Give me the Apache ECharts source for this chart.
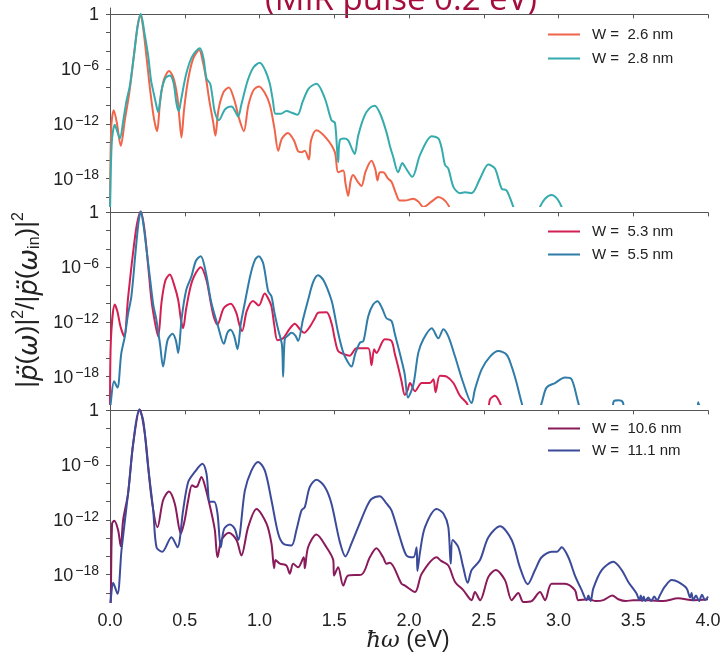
<!DOCTYPE html>
<html>
<head>
<meta charset="utf-8">
<script src="https://cdn.jsdelivr.net/npm/echarts@6/dist/echarts.min.js"></script>
<style>html,body{margin:0;padding:0;background:#fff}#c{width:725px;height:654px}</style>
</head>
<body>
<div id="c"></div>
<script>
// values are [photon energy in eV, log10 of normalized intensity]
const xTicks = [0, 0.5, 1, 1.5, 2, 2.5, 3, 3.5, 4];
const yTickExps = [0, -2, -4, -6, -8, -10, -12, -14, -16, -18, -20];
const yLabelExps = [0, -6, -12, -18];

const names = ['W =  2.6 nm', 'W =  2.8 nm', 'W =  5.3 nm', 'W =  5.5 nm', 'W =  10.6 nm', 'W =  11.1 nm'];
const colors = ['#F0654A', '#35ABAD', '#D41F52', '#2F7CA8', '#8A1B5B', '#3C4A9A'];

const w26 = [[0.0,-22],[0.008,-12.5],[0.025,-10.5],[0.045,-11.8],[0.072,-14.4],[0.1,-11.5],[0.13,-8.5],[0.16,-4.5],[0.185,-1.2],[0.204,0],[0.222,-1.5],[0.245,-4.8],[0.27,-8.5],[0.295,-11.5],[0.315,-12.8],[0.335,-9.6],[0.36,-7.2],[0.395,-6.2],[0.425,-7.0],[0.45,-9.0],[0.465,-11.5],[0.478,-13.5],[0.495,-10.5],[0.52,-7.4],[0.555,-4.9],[0.596,-3.9],[0.625,-5.5],[0.645,-7.3],[0.665,-9.5],[0.69,-11.8],[0.705,-13.3],[0.725,-10.5],[0.76,-8.5],[0.795,-8.0],[0.83,-9.3],[0.865,-11.5],[0.895,-12.8],[0.925,-10.0],[0.96,-8.3],[0.997,-7.9],[1.035,-8.6],[1.069,-9.9],[1.1,-12.5],[1.125,-14.95],[1.15,-13.6],[1.19,-13.0],[1.23,-13.8],[1.258,-15.0],[1.28,-15.1],[1.303,-14.95],[1.33,-15.9],[1.345,-13.8],[1.381,-12.7],[1.448,-13.6],[1.504,-15.1],[1.526,-17.3],[1.56,-17.1],[1.575,-18.5],[1.593,-19.9],[1.61,-18.2],[1.626,-17.6],[1.655,-18.3],[1.682,-18.8],[1.71,-17.2],[1.749,-16.05],[1.775,-17.0],[1.789,-18.2],[1.805,-17.3],[1.827,-17.3],[1.86,-18.0],[1.883,-18.35],[1.91,-19.5],[1.938,-20.4],[1.973,-20.4],[2.029,-20.2],[2.062,-20.5],[2.096,-21.1],[2.152,-20.5],[2.196,-20.0],[2.23,-20.25],[2.263,-20.9],[2.285,-22]];

const w28 = [[0.0,-22],[0.012,-14],[0.032,-12.1],[0.05,-12.9],[0.066,-13.6],[0.09,-11.5],[0.11,-9.5],[0.132,-7.9],[0.16,-4.5],[0.185,-1.3],[0.206,0.05],[0.23,-2],[0.255,-4.5],[0.275,-7.3],[0.288,-8.3],[0.305,-9.6],[0.322,-10.7],[0.345,-8.3],[0.37,-7.0],[0.40,-6.7],[0.425,-7.5],[0.445,-9.8],[0.46,-10.6],[0.475,-9.4],[0.51,-6.5],[0.55,-4.6],[0.601,-3.7],[0.625,-4.8],[0.645,-7.0],[0.67,-7.6],[0.685,-9.0],[0.701,-10.7],[0.728,-11.6],[0.77,-10.4],[0.813,-10.1],[0.84,-10.7],[0.857,-11.2],[0.88,-9.8],[0.92,-7.3],[0.96,-5.8],[1.002,-5.3],[1.04,-6.2],[1.069,-7.6],[1.09,-9.5],[1.107,-10.9],[1.14,-10.9],[1.18,-10.6],[1.22,-10.8],[1.254,-11.0],[1.29,-9.5],[1.33,-8.1],[1.381,-7.6],[1.437,-9.2],[1.481,-11.6],[1.505,-11.9],[1.526,-16.2],[1.537,-13.8],[1.565,-13.6],[1.593,-13.8],[1.62,-14.8],[1.637,-15.3],[1.66,-13.3],[1.7,-11.2],[1.735,-10.3],[1.771,-10.0],[1.81,-11.0],[1.849,-12.9],[1.875,-14.6],[1.894,-15.6],[1.927,-17.3],[1.956,-16.3],[1.973,-16.7],[2.022,-17.8],[2.074,-15.4],[2.152,-13.35],[2.196,-13.6],[2.219,-14.7],[2.241,-16.5],[2.263,-16.9],[2.297,-18.9],[2.341,-19.6],[2.375,-19.5],[2.419,-19.6],[2.475,-18.0],[2.531,-16.45],[2.575,-16.9],[2.62,-19.1],[2.653,-19.3],[2.698,-21.1],[2.72,-22],[2.86,-22],[2.876,-21.1],[2.91,-20.2],[2.954,-19.8],[2.99,-20.2],[3.021,-21.1],[3.04,-22]];

const w53 = [[0.0,-22],[0.006,-14],[0.032,-10.1],[0.05,-10.9],[0.07,-12.5],[0.095,-13.6],[0.12,-9.5],[0.15,-5.0],[0.18,-1.3],[0.206,0.1],[0.23,-1.8],[0.255,-5.8],[0.277,-9.6],[0.3,-12.0],[0.322,-13.6],[0.345,-9.8],[0.37,-7.5],[0.40,-6.8],[0.43,-8.0],[0.456,-9.6],[0.475,-11.8],[0.489,-12.7],[0.51,-10.5],[0.55,-7.5],[0.607,-6.0],[0.645,-7.4],[0.674,-9.9],[0.695,-11.5],[0.719,-12.3],[0.76,-10.5],[0.808,-10.0],[0.845,-11.0],[0.865,-12.3],[0.884,-13.0],[0.915,-10.8],[0.957,-9.7],[0.995,-10.2],[1.035,-8.9],[1.06,-9.5],[1.08,-10.3],[1.1,-12.5],[1.12,-14.0],[1.158,-13.8],[1.2,-12.8],[1.236,-12.2],[1.27,-12.8],[1.298,-13.2],[1.336,-12.55],[1.37,-11.6],[1.392,-11.0],[1.448,-10.95],[1.481,-12.1],[1.504,-13.9],[1.526,-15.2],[1.56,-15.5],[1.604,-15.7],[1.649,-14.9],[1.727,-14.9],[1.749,-16.75],[1.767,-15.0],[1.782,-15.4],[1.838,-13.9],[1.883,-14.1],[1.905,-15.5],[1.927,-16.9],[1.95,-18.5],[1.972,-20.0],[1.99,-19.5],[2.007,-18.7],[2.04,-19.6],[2.085,-18.7],[2.14,-18.7],[2.163,-18.3],[2.178,-19.7],[2.207,-17.9],[2.252,-18.0],[2.297,-18.7],[2.341,-20.1],[2.386,-20.9],[2.42,-22],[2.52,-22],[2.542,-20.5],[2.575,-20.1],[2.609,-20.9],[2.63,-22]];

const w55 = [[0.0,-22],[0.005,-20.9],[0.027,-18.5],[0.05,-19.2],[0.075,-15.5],[0.099,-13.6],[0.12,-11.2],[0.143,-9.2],[0.17,-4.5],[0.19,-1.2],[0.206,0.1],[0.225,-1.5],[0.245,-4.2],[0.266,-7.0],[0.29,-10.2],[0.31,-11.75],[0.335,-14.5],[0.355,-16.9],[0.385,-14.0],[0.418,-13.3],[0.44,-14.0],[0.456,-15.4],[0.48,-11.5],[0.51,-8.5],[0.545,-7.0],[0.575,-5.3],[0.607,-4.8],[0.64,-6.5],[0.678,-9.9],[0.723,-12.5],[0.761,-14.4],[0.785,-13.2],[0.806,-12.85],[0.83,-13.5],[0.853,-15.0],[0.875,-12.2],[0.902,-9.9],[0.94,-6.8],[0.97,-5.2],[0.995,-4.8],[1.025,-5.6],[1.058,-8.65],[1.08,-9.2],[1.1,-11.0],[1.125,-12.85],[1.15,-14.5],[1.158,-18.0],[1.169,-13.9],[1.19,-13.5],[1.214,-13.2],[1.24,-13.5],[1.258,-14.1],[1.29,-11.8],[1.325,-9.6],[1.36,-7.6],[1.392,-6.9],[1.43,-7.5],[1.481,-9.6],[1.5,-11.0],[1.526,-13.2],[1.55,-14.8],[1.571,-15.8],[1.615,-16.9],[1.64,-15.5],[1.671,-14.3],[1.695,-14.1],[1.727,-11.4],[1.76,-10.1],[1.789,-9.75],[1.82,-10.5],[1.849,-11.6],[1.883,-11.9],[1.905,-13.3],[1.927,-14.7],[1.95,-16.2],[1.972,-17.8],[1.993,-20.3],[2.029,-18.9],[2.062,-15.4],[2.096,-13.9],[2.152,-12.7],[2.196,-13.8],[2.23,-12.8],[2.263,-13.6],[2.308,-15.8],[2.363,-18.7],[2.419,-20.9],[2.441,-19.4],[2.486,-17.2],[2.542,-15.8],[2.598,-15.2],[2.653,-15.6],[2.687,-16.9],[2.72,-18.7],[2.754,-20.9],[2.78,-22],[2.86,-22],[2.887,-20.9],[2.92,-19.2],[2.977,-18.7],[3.043,-18.1],[3.088,-18.3],[3.133,-20.9],[3.16,-22],[3.35,-22],[3.37,-20.7],[3.4,-20.6],[3.43,-20.8],[3.45,-22],[3.92,-22],[3.935,-20.8],[3.95,-22]];

const w106 = [[0.0,-22],[0.005,-20.8],[0.014,-12.4],[0.028,-12.1],[0.054,-13.1],[0.072,-14.9],[0.088,-12.0],[0.121,-9.1],[0.155,-3.65],[0.199,0.1],[0.233,-2.55],[0.277,-9.5],[0.318,-12.8],[0.355,-9.85],[0.394,-8.9],[0.433,-10.2],[0.474,-13.5],[0.5,-12.0],[0.523,-9.85],[0.549,-8.2],[0.572,-8.4],[0.585,-8.3],[0.612,-7.3],[0.634,-8.2],[0.674,-10.9],[0.701,-13.1],[0.719,-16.1],[0.746,-14.2],[0.795,-13.4],[0.846,-14.2],[0.879,-15.9],[0.924,-12.8],[0.98,-10.8],[1.047,-12.4],[1.08,-14.6],[1.098,-17.3],[1.107,-16.4],[1.136,-16.8],[1.18,-17.0],[1.203,-17.9],[1.225,-16.8],[1.258,-17.2],[1.296,-16.1],[1.303,-17.3],[1.325,-15.0],[1.381,-13.6],[1.448,-15.0],[1.493,-16.4],[1.499,-18.1],[1.526,-17.2],[1.56,-19.2],[1.593,-18.1],[1.682,-18.0],[1.738,-16.1],[1.782,-15.1],[1.827,-16.1],[1.849,-16.8],[1.872,-16.7],[1.95,-19.0],[1.973,-19.2],[2.04,-19.9],[2.085,-17.9],[2.185,-16.1],[2.215,-16.5],[2.263,-17.0],[2.308,-18.8],[2.363,-19.7],[2.419,-20.8],[2.441,-19.9],[2.475,-20.8],[2.531,-18.25],[2.58,-17.5],[2.642,-18.6],[2.687,-20.8],[2.731,-20.0],[2.765,-21.0],[2.82,-20.9],[2.876,-19.9],[2.91,-20.8],[2.954,-19.0],[3.043,-19.0],[3.11,-19.7],[3.133,-20.8],[3.2,-20.7],[3.25,-20.9],[3.3,-20.8],[3.36,-20.3],[3.4,-20.7],[3.45,-20.9],[3.5,-20.8],[3.6,-20.8],[3.7,-20.9],[3.8,-20.6],[3.9,-20.8],[4.0,-20.7]];

const w111 = [[0.0,-22],[0.005,-20.8],[0.021,-18.9],[0.05,-20.1],[0.077,-15.3],[0.121,-9.1],[0.155,-3.65],[0.195,0.1],[0.222,-1.1],[0.255,-6.2],[0.289,-10.95],[0.311,-15.0],[0.349,-15.5],[0.411,-13.9],[0.451,-15.0],[0.489,-10.95],[0.523,-7.85],[0.567,-6.75],[0.618,-5.85],[0.645,-6.9],[0.668,-10.0],[0.697,-10.0],[0.719,-11.3],[0.741,-15.0],[0.763,-13.0],[0.801,-12.5],[0.835,-13.0],[0.857,-14.2],[0.902,-8.8],[0.946,-6.6],[0.991,-5.65],[1.036,-6.6],[1.08,-9.85],[1.125,-13.5],[1.158,-14.6],[1.214,-14.8],[1.247,-13.1],[1.281,-10.95],[1.303,-10.6],[1.336,-8.4],[1.381,-7.6],[1.437,-8.4],[1.481,-10.2],[1.537,-14.4],[1.575,-16.0],[1.615,-14.6],[1.66,-12.8],[1.716,-10.6],[1.749,-9.7],[1.804,-9.4],[1.849,-10.2],[1.883,-10.95],[1.939,-13.9],[1.983,-15.9],[2.029,-16.1],[2.051,-15.0],[2.056,-17.6],[2.074,-15.5],[2.107,-12.8],[2.185,-10.8],[2.23,-11.3],[2.263,-12.8],[2.279,-16.8],[2.292,-14.2],[2.33,-15.0],[2.363,-17.2],[2.392,-18.9],[2.419,-17.5],[2.475,-16.4],[2.531,-13.9],[2.609,-12.7],[2.687,-14.2],[2.742,-17.2],[2.794,-19.05],[2.843,-17.5],[2.887,-16.1],[2.954,-15.5],[2.99,-15.5],[3.021,-15.0],[3.066,-16.1],[3.11,-18.1],[3.155,-19.7],[3.188,-20.8],[3.2,-20.3],[3.215,-20.9],[3.233,-19.5],[3.289,-17.5],[3.367,-16.6],[3.423,-17.5],[3.467,-18.8],[3.523,-20.1],[3.54,-20.8],[3.55,-20.3],[3.56,-20.9],[3.57,-20.4],[3.58,-20.9],[3.6,-20.5],[3.62,-20.9],[3.64,-20.4],[3.66,-20.8],[3.68,-20.2],[3.712,-19.3],[3.757,-18.6],[3.8,-18.8],[3.857,-19.5],[3.88,-20.5],[3.89,-20.0],[3.9,-20.8],[3.92,-20.3],[3.94,-20.9],[3.96,-20.2],[3.98,-20.8],[4.0,-20.4]];

const seriesData = [w26, w28, w53, w55, w106, w111];
const panelOf = [0, 0, 1, 1, 2, 2];

const chart = echarts.init(document.getElementById('c'), null, {renderer: 'canvas'});
const tickFont = '"Liberation Sans", Arial, sans-serif';
const grids = [0, 1, 2].map(i => ({left: 110, right: 17, top: 8 + i * 198, height: 198}));
const xAxes = [0, 1, 2].map(i => ({
  type: 'value', gridIndex: i, min: xTicks[0], max: xTicks[xTicks.length - 1], interval: 0.5,
  axisLine: {lineStyle: {color: '#555', width: 1}},
  axisTick: {length: 4, lineStyle: {color: '#555'}},
  splitLine: {show: false},
  axisLabel: {show: i === 2, fontSize: 18, color: '#222', fontFamily: tickFont, margin: 10,
    formatter: v => v.toFixed(1)}
}));
const yAxes = [0, 1, 2].map(i => ({
  type: 'value', gridIndex: i, min: -21, max: 0.7,
  axisLine: {show: true, lineStyle: {color: '#555', width: 1}},
  axisTick: {show: true, length: 4, lineStyle: {color: '#555'}, customValues: yTickExps},
  splitLine: {show: false},
  axisLabel: {
    customValues: yLabelExps, margin: 11, color: '#222', fontFamily: tickFont,
    formatter: v => v === 0 ? '{b|1}' : '{b|10}{s|\u2212' + (-v) + '}',
    rich: {
      b: {fontSize: 18, fontFamily: tickFont, color: '#222', lineHeight: 20, verticalAlign: 'bottom'},
      s: {fontSize: 14, fontFamily: tickFont, color: '#222', lineHeight: 13, verticalAlign: 'top', padding: [0, 0, 0, 2]}
    }
  }
}));

const series = seriesData.map((d, k) => ({
  name: names[k], type: 'line', xAxisIndex: panelOf[k], yAxisIndex: panelOf[k],
  data: d, symbol: 'none', showSymbol: false, smooth: 0.3, clip: true,
  lineStyle: {width: 2, color: colors[k]}, itemStyle: {color: colors[k]}
}));

const lineIcon = 'path://M0,0L0.01,0M0,6L32,6L32,8L0,8ZM0,14L0.01,14';
const legendTops = [27, 224, 421];
const legendGaps = [9, 8, 7];
const legends = [0, 1, 2].map(i => ({
  data: [names[2 * i], names[2 * i + 1]], orient: 'vertical', left: 548, top: legendTops[i],
  padding: 0, icon: lineIcon, itemWidth: 32, itemHeight: 14, itemGap: legendGaps[i],
  textStyle: {fontSize: 15, lineHeight: 14, color: '#222', fontFamily: tickFont, padding: [0, 0, 0, 7]}
}));

chart.setOption({
  animation: false,
  backgroundColor: '#fff',
  grid: grids, xAxis: xAxes, yAxis: yAxes, series: series, legend: legends,
  graphic: [
    {type: 'text', x: 401, y: 1, style: {text: '(MIR pulse 0.2 eV)', align: 'center', verticalAlign: 'middle',
      fontSize: 33, fontFamily: '"Open Sans", sans-serif', fill: '#A50E3C'}},
    {type: 'text', x: 408, y: 641, style: {text: '{i|\u0127\u03c9} (eV)', align: 'center', verticalAlign: 'middle',
      fontSize: 23, fontFamily: tickFont, fill: '#222',
      rich: {i: {fontStyle: 'italic', fontSize: 23, fontFamily: '"DejaVu Serif", serif', fill: '#222'}}}},
    {type: 'text', x: 27, y: 300, rotation: Math.PI / 2, style: {
      text: '|{i|p\u0308}({i|\u03c9})|{s|2}/|{i|p\u0308}({i|\u03c9}{d|in})|{s|2}',
      align: 'center', verticalAlign: 'middle', fontSize: 26, fontFamily: tickFont, fill: '#222',
      rich: {
        i: {fontStyle: 'italic', fontSize: 26, fontFamily: '"DejaVu Sans", sans-serif', lineHeight: 32, verticalAlign: 'bottom'},
        s: {fontSize: 16, fontFamily: tickFont, lineHeight: 16, verticalAlign: 'top'},
        d: {fontSize: 16, fontFamily: tickFont, lineHeight: 16, verticalAlign: 'bottom'}
      }}}
  ]
});
</script>
</body>
</html>
